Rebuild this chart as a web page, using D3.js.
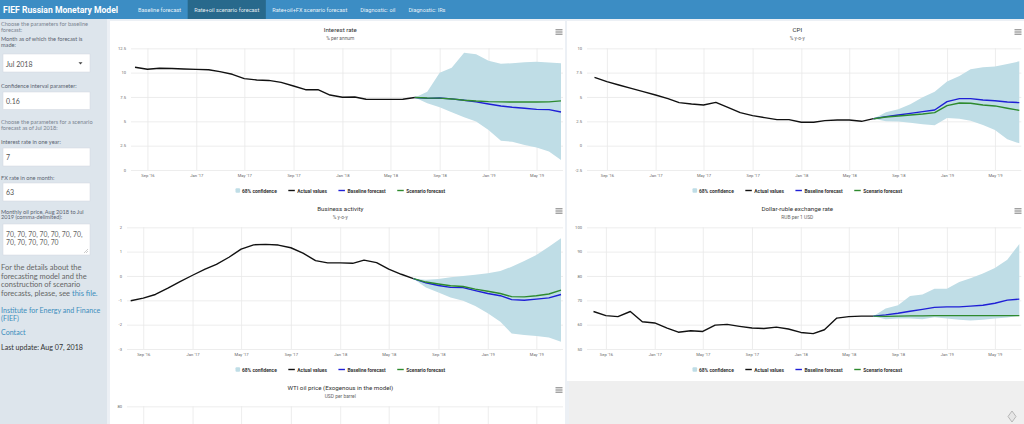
<!DOCTYPE html>
<html><head><meta charset="utf-8">
<script src="https://cdn.jsdelivr.net/npm/d3@7"></script>
<style>
html,body{margin:0;padding:0;width:1024px;height:424px;overflow:hidden;background:#fff}
svg{display:block}
</style></head><body>
<svg id="c" width="1024" height="424"></svg>
<script>
// ---------------- DATA ----------------
const months = ["2016-08","2016-09","2016-10","2016-11","2016-12","2017-01","2017-02","2017-03","2017-04","2017-05","2017-06","2017-07",
  "2017-08","2017-09","2017-10","2017-11","2017-12","2018-01","2018-02","2018-03","2018-04","2018-05","2018-06","2018-07",
  "2018-08","2018-09","2018-10","2018-11","2018-12","2019-01","2019-02","2019-03","2019-04","2019-05","2019-06","2019-07"];
const actualMonths = months.slice(0, 24);     // Aug 2016 - Jul 2018
const forecastMonths = months.slice(23);      // Jul 2018 - Jul 2019
const xTicks = ["2016-09","2017-01","2017-05","2017-09","2018-01","2018-05","2018-09","2019-01","2019-05"];
const xTickLabels = ["Sep '16","Jan '17","May '17","Sep '17","Jan '18","May '18","Sep '18","Jan '19","May '19"];
const legendLabels = ["68% confidence","Actual values","Baseline forecast","Scenario forecast"];

// Interest rate, % per annum
const rateTicks = [0, 2.5, 5, 7.5, 10, 12.5];
const rateActual = [10.55,10.35,10.45,10.42,10.38,10.34,10.3,10.1,9.83,9.38,9.25,9.2,9.0,8.63,8.25,8.25,7.7,7.47,7.5,7.27,7.25,7.25,7.27,7.45];
const rateBase = [7.45,7.36,7.4,7.3,7.16,7.0,6.78,6.58,6.44,6.34,6.23,6.2,5.96];
const rateScen = [7.45,7.4,7.38,7.3,7.17,7.08,7.02,7.0,6.98,6.98,6.98,7.0,7.1];
const rateLow  = [7.45,6.85,6.44,5.92,5.41,4.97,4.1,3.0,2.9,2.57,2.3,1.9,1.03];
const rateHigh = [7.45,8.05,10.0,10.5,12.05,11.9,11.23,10.92,10.96,11.06,11.13,11.03,10.96];

// CPI, % y-o-y
const cpiTicks = [-2.5, 0, 2.5, 5, 7.5, 10];
const cpiActual = [7.02,6.58,6.23,5.89,5.55,5.2,4.83,4.42,4.28,4.18,4.45,3.94,3.39,3.08,2.88,2.67,2.67,2.4,2.4,2.57,2.64,2.64,2.5,2.77];
const cpiBase = [2.77,2.98,3.15,3.32,3.49,3.66,4.52,4.83,4.83,4.69,4.62,4.49,4.42];
const cpiScen = [2.77,2.95,3.05,3.15,3.25,3.39,4.11,4.38,4.35,4.18,4.08,3.84,3.63];
const cpiLow  = [2.77,2.5,2.47,2.36,2.19,2.09,2.84,2.77,2.57,2.12,1.61,0.65,0.24];
const cpiHigh = [2.77,3.42,3.73,4.25,4.97,5.55,6.58,7.16,7.84,8.05,8.12,8.39,8.66];

// Business activity, % y-o-y
const baTicks = [-3, -2, -1, 0, 1, 2];
const baActual = [-1.02,-0.91,-0.76,-0.5,-0.23,0.03,0.28,0.48,0.77,1.1,1.28,1.3,1.27,1.16,0.94,0.63,0.54,0.54,0.52,0.65,0.55,0.28,0.07,-0.11];
const baBase = [-0.11,-0.28,-0.39,-0.47,-0.48,-0.6,-0.72,-0.81,-0.97,-1.0,-0.95,-0.9,-0.76];
const baScen = [-0.11,-0.25,-0.33,-0.4,-0.43,-0.54,-0.63,-0.72,-0.85,-0.86,-0.81,-0.74,-0.58];
const baLow  = [-0.11,-0.47,-0.68,-0.88,-1.02,-1.23,-1.53,-1.88,-2.36,-2.42,-2.47,-2.53,-2.7];
const baHigh = [-0.11,-0.16,-0.12,-0.05,0,0.05,0.11,0.2,0.38,0.62,0.86,1.2,1.55];

// Dollar-ruble exchange rate, RUB per 1 USD
const fxTicks = [50, 60, 70, 80, 90, 100];
const fxActual = [65.4,63.7,63.3,65.4,61.2,60.7,58.6,56.9,57.5,57.2,59.8,60.1,59.3,58.6,58.4,59.0,58.2,56.8,56.3,57.9,62.7,63.3,63.5,63.5];
const fxBase = [63.5,64.0,64.7,65.5,66.3,67.1,67.3,67.3,67.6,68.0,68.8,70.1,70.5];
const fxScen = [63.5,63.4,63.5,63.6,63.6,63.7,63.7,63.7,63.7,63.7,63.7,63.7,63.7];
const fxLow  = [63.5,62.2,62.5,62.5,62.2,63.0,62.5,62.0,61.7,62.0,62.5,62.9,63.6];
const fxHigh = [63.5,66.6,68.0,71.8,72.4,74.8,74.8,77.5,79.1,81.0,83.3,86.7,93.1];

// WTI oil price, USD per barrel (only the top of this chart is in view)
const wtiTicks = [30, 40, 50, 60, 70, 80];
const wtiActual = [44.8,45.2,49.8,45.7,52.0,52.5,53.5,49.3,51.1,48.5,45.2,46.6,48.0,49.8,51.6,56.6,57.9,63.7,62.2,62.7,66.3,70.0,67.9,71.0];
const wtiScen = [71.0,70,70,70,70,70,70,70,70,70,70,70,70];

// Sidebar / navbar texts
const navTitle = "FIEF Russian Monetary Model";
const navTabs = ["Baseline forecast","Rate+oil scenario forecast","Rate+oil+FX scenario forecast","Diagnostic: oil","Diagnostic: IRs"];

// ---------------- DRAW ----------------
const W = 1024, H = 424;
const svg = d3.select("#c");
const parse = d3.utcParse("%Y-%m");
const COL = {band:"#bfdde6", actual:"#111111", base:"#1f1fd6", scen:"#2e8a2e", grid:"#e9e9e9", axis:"#666666", title:"#333333"};
const CF = "Roboto, 'Open Sans', sans-serif";
const SF = "Lato, 'Open Sans', sans-serif";

svg.append("rect").attr("width", W).attr("height", H).attr("fill", "#ecf0f5");
svg.append("rect").attr("x", 0).attr("y", 19).attr("width", 107).attr("height", H - 19).attr("fill", "#dde5ec");

// navbar
svg.append("rect").attr("width", W).attr("height", 19).attr("fill", "#3c8dc4");
svg.append("text").attr("x", 3).attr("y", 9.8).attr("dominant-baseline", "central")
  .attr("font-family", CF).attr("font-weight", 700).attr("font-size", 8.6).attr("fill", "#fff").text(navTitle);
{
  let tx = 131.5;
  navTabs.forEach((t, i) => {
    const bg = svg.append("rect").attr("y", 0).attr("height", 19).attr("fill", i === 1 ? "#28698c" : "none");
    const te = svg.append("text").attr("x", tx + 6.5).attr("y", 9.5).attr("dominant-baseline", "central")
      .attr("font-family", CF).attr("font-size", 5.6).attr("fill", "#ffffff").attr("fill-opacity", 0.9).text(t);
    const w = te.node().getComputedTextLength();
    bg.attr("x", tx).attr("width", w + 13);
    tx += w + 13;
  });
}

// sidebar
function sText(x, y, t, opt = {}) {
  return svg.append("text").attr("x", x).attr("y", y).attr("dominant-baseline", "central")
    .attr("font-family", SF).attr("font-size", opt.size || 5.6).attr("fill", opt.fill || "#5a6370")
    .attr("font-weight", opt.weight || 400).text(t);
}
function box(y, h) {
  svg.append("rect").attr("x", 3).attr("y", y).attr("width", 87).attr("height", h)
    .attr("fill", "#fff").attr("stroke", "#d2d6de").attr("stroke-width", 0.5);
}
sText(1, 23.5, "Choose the parameters for baseline", {fill:"#7a8490"});
sText(1, 29.5, "forecast:", {fill:"#7a8490"});
sText(1, 38.5, "Month as of which the forecast is");
sText(1, 44.5, "made:");
box(54, 18);
sText(6, 63.5, "Jul 2018", {size:7, fill:"#555"});
svg.append("path").attr("d", "M78.5,62.3 L82.5,62.3 L80.5,64.6 Z").attr("fill", "#444");
sText(1, 85.5, "Confidence interval parameter:");
box(92, 17.5);
sText(6, 100.5, "0.16", {size:7, fill:"#555"});
sText(1, 121.5, "Choose the parameters for a scenario", {fill:"#7a8490"});
sText(1, 127, "forecast as of Jul 2018:", {fill:"#7a8490"});
sText(1, 141, "Interest rate in one year:");
box(148, 18);
sText(6, 157, "7", {size:7, fill:"#555"});
sText(1, 177, "FX rate in one month:");
box(183, 18);
sText(6, 192, "63", {size:7, fill:"#555"});
sText(1, 211, "Monthly oil price, Aug 2018 to Jul");
sText(1, 216.5, "2019 (comma-delimited):");
box(224, 31);
sText(6, 233.5, "70, 70, 70, 70, 70, 70, 70,", {size:6.8, fill:"#666"});
sText(6, 242, "70, 70, 70, 70, 70", {size:6.8, fill:"#666"});
svg.append("path").attr("d", "M84,253 L88,249 M86,253 L88,251").attr("stroke", "#999").attr("stroke-width", 0.5);
sText(1, 267, "For the details about the", {size:7.5, fill:"#666"});
sText(1, 276, "forecasting model and the", {size:7.5, fill:"#666"});
sText(1, 284.5, "construction of scenario", {size:7.5, fill:"#666"});
{
  const t = sText(1, 293, "forecasts, please, see ", {size:7.5, fill:"#666"});
  t.append("tspan").attr("fill", "#3c8dbc").text("this file.");
}
sText(1, 310, "Institute for Energy and Finance", {size:7.1, fill:"#3c8dbc"});
sText(1, 318.5, "(FIEF)", {size:7.1, fill:"#3c8dbc"});
sText(1, 332, "Contact", {size:7.1, fill:"#3c8dbc"});
sText(1, 347, "Last update: Aug 07, 2018", {size:7.1, fill:"#333"});

// empty right box in third row
svg.append("rect").attr("x", 569).attr("y", 381).attr("width", 455).attr("height", 43).attr("fill", "#efefef");
svg.append("path").attr("d", "M1012,411 L1016,416.5 L1012,422 L1008,416.5 Z")
  .attr("fill", "#e6e6e6").attr("stroke", "#aaa").attr("stroke-width", 0.8);

// charts
const charts = [
  {title:"Interest rate", sub:"% per annum", px:110, py:21, pw:455, ph:179, x0:135, x1:561, lr:126,
   yd:[0,12.5], yt:rateTicks, actual:rateActual, base:rateBase, scen:rateScen, lo:rateLow, hi:rateHigh},
  {title:"CPI", sub:"% y-o-y", px:567, py:21, pw:457, ph:179, x0:594.5, x1:1019.3, lr:582,
   yd:[-2.5,10], yt:cpiTicks, actual:cpiActual, base:cpiBase, scen:cpiScen, lo:cpiLow, hi:cpiHigh},
  {title:"Business activity", sub:"% y-o-y", px:110, py:200, pw:455, ph:179, x0:130.7, x1:561, lr:122,
   yd:[-3,2], yt:baTicks, actual:baActual, base:baBase, scen:baScen, lo:baLow, hi:baHigh},
  {title:"Dollar-ruble exchange rate", sub:"RUB per 1 USD", px:567, py:200, pw:457, ph:181, x0:593.5, x1:1019.3, lr:582,
   yd:[50,100], yt:fxTicks, actual:fxActual, base:fxBase, scen:fxScen, lo:fxLow, hi:fxHigh},
  {title:"WTI oil price (Exogenous in the model)", sub:"USD per barrel", px:110, py:379, pw:455, ph:179, x0:130.7, x1:561, lr:122,
   yd:[30,80], yt:wtiTicks, actual:wtiActual, base:null, scen:wtiScen, lo:null, hi:null}
];

charts.forEach(c => {
  const g = svg.append("g");
  g.append("rect").attr("x", c.px).attr("y", c.py).attr("width", c.pw).attr("height", Math.min(c.ph, H - c.py)).attr("fill", "#fff");
  const top = c.py + 27.3, bot = c.py + 149;
  const gx0 = c.lr + 5, gx1 = c.x1 + 2;
  const cx = c.px + 230.3;
  const x = d3.scaleUtc().domain([parse(months[0]), parse(months[months.length - 1])]).range([c.x0, c.x1]);
  const y = d3.scaleLinear().domain(c.yd).range([bot, top]);

  // y axis + horizontal grid
  const ya = g.append("g").attr("transform", `translate(${gx0},0)`)
    .call(d3.axisLeft(y).tickValues(c.yt).tickSize(-(gx1 - gx0)).tickPadding(5).tickFormat(d => String(d)));
  // x axis + vertical grid
  const xa = g.append("g").attr("transform", `translate(0,${bot})`)
    .call(d3.axisBottom(x).tickValues(xTicks.map(parse)).tickSize(-(bot - top)).tickPadding(4)
      .tickFormat((d, i) => xTickLabels[i]));
  [ya, xa].forEach(a => {
    a.select(".domain").remove();
    a.selectAll(".tick line").attr("stroke", COL.grid).attr("stroke-width", 0.8);
    a.selectAll(".tick text").attr("fill", COL.axis).attr("font-family", CF).attr("font-size", 4.1);
  });
  // drop labels that fall below the visible page (bottom chart is cut by the window)
  ya.selectAll(".tick").filter(d => y(d) > H - 3).select("text").remove();
  if (bot + 8 > H) xa.selectAll(".tick text").remove();

  const pts = (ms, vs) => ms.map((m, i) => [x(parse(m)), y(vs[i])]);
  if (c.lo) {
    g.append("path")
      .attr("d", d3.area().x((d, i) => x(parse(forecastMonths[i]))).y0((d, i) => y(c.lo[i])).y1((d, i) => y(c.hi[i]))(c.lo))
      .attr("fill", COL.band);
  }
  const line = d3.line();
  g.append("path").attr("d", line(pts(actualMonths, c.actual))).attr("fill", "none")
    .attr("stroke", COL.actual).attr("stroke-width", 1.4).attr("stroke-linejoin", "round");
  if (c.base) g.append("path").attr("d", line(pts(forecastMonths, c.base))).attr("fill", "none")
    .attr("stroke", COL.base).attr("stroke-width", 1.4).attr("stroke-linejoin", "round");
  if (c.scen) g.append("path").attr("d", line(pts(forecastMonths, c.scen))).attr("fill", "none")
    .attr("stroke", COL.scen).attr("stroke-width", 1.4).attr("stroke-linejoin", "round");

  // titles
  g.append("text").attr("x", cx).attr("y", c.py + 9).attr("text-anchor", "middle").attr("dominant-baseline", "central")
    .attr("font-family", CF).attr("font-size", 6.2).attr("fill", COL.title).text(c.title);
  g.append("text").attr("x", cx).attr("y", c.py + 17).attr("text-anchor", "middle").attr("dominant-baseline", "central")
    .attr("font-family", CF).attr("font-size", 4.9).attr("fill", "#666").text(c.sub);
  // menu icon
  const hx = c.px + c.pw - 6, hy = c.py + 11;
  [-2.2, 0, 2.2].forEach(o => g.append("line").attr("x1", hx - 3.5).attr("x2", hx + 3.5).attr("y1", hy + o).attr("y2", hy + o)
    .attr("stroke", "#555").attr("stroke-width", 0.8));

  // legend
  const ly = c.py + 169.5;
  if (ly < H - 4) {
    const lg = g.append("g");
    let lx = 0;
    const syms = ["band", "actual", "base", "scen"];
    legendLabels.forEach((lab, i) => {
      const it = lg.append("g").attr("transform", `translate(${lx},0)`);
      if (i === 0) it.append("rect").attr("x", 0).attr("y", ly - 2.3).attr("width", 4.6).attr("height", 4.6).attr("rx", 1).attr("fill", COL.band);
      else it.append("line").attr("x1", -0.5).attr("x2", 6).attr("y1", ly).attr("y2", ly).attr("stroke", COL[syms[i]]).attr("stroke-width", 1.4);
      const t = it.append("text").attr("x", i === 0 ? 6.5 : 8.5).attr("y", ly).attr("dominant-baseline", "central")
        .attr("font-family", CF).attr("font-weight", 700).attr("font-size", 4.9).attr("fill", "#333").text(lab);
      lx += (i === 0 ? 6.5 : 8.5) + t.node().getComputedTextLength() + 12;
    });
    lx -= 12;
    lg.attr("transform", `translate(${cx - lx / 2},0)`);
  }
});
</script>
</body></html>
